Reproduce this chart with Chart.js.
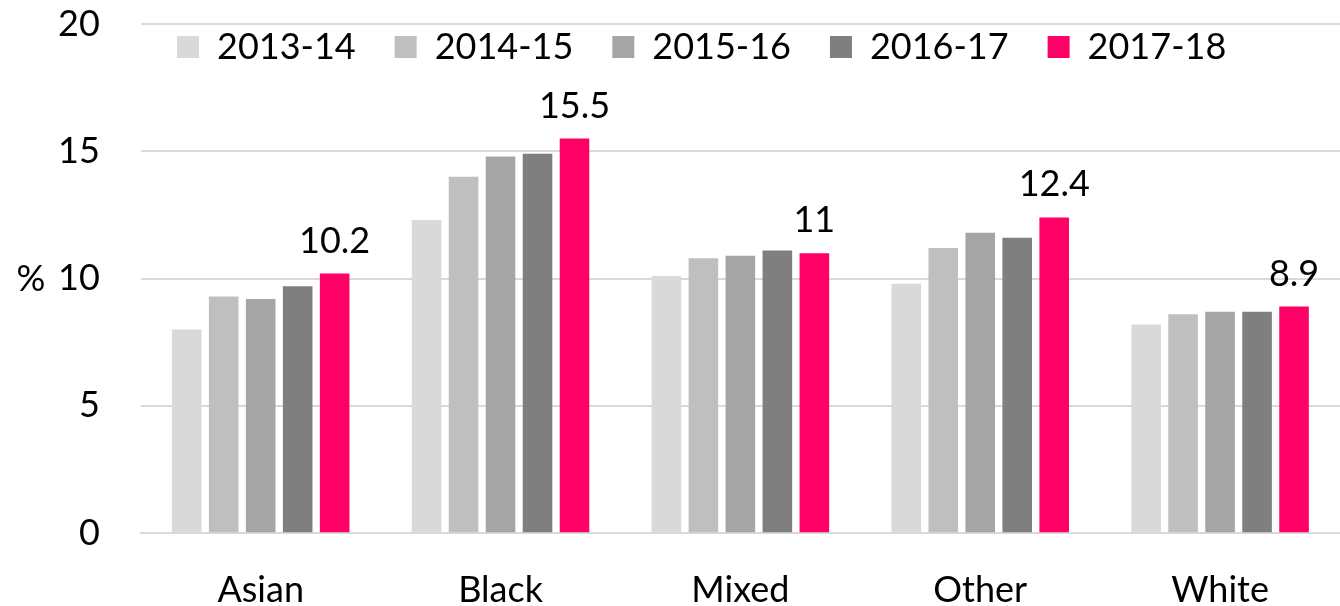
<!DOCTYPE html>
<html>
<head>
<meta charset="utf-8">
<script src="https://cdn.jsdelivr.net/npm/chart.js@4/dist/chart.umd.min.js"></script>
<style>
  html, body { margin: 0; padding: 0; background: #fff; }
  #wrap { width: 1340px; height: 606px; position: relative; }
</style>
</head>
<body>
<div id="wrap"><canvas id="c" width="1340" height="606"></canvas></div>
<script>
// ---- data ----
const categories = ['Asian', 'Black', 'Mixed', 'Other', 'White'];
const seriesNames = ['2013-14', '2014-15', '2015-16', '2016-17', '2017-18'];
const values2013 = [8.0, 12.3, 10.1, 9.8, 8.2];
const values2014 = [9.3, 14.0, 10.8, 11.2, 8.6];
const values2015 = [9.2, 14.8, 10.9, 11.8, 8.7];
const values2016 = [9.7, 14.9, 11.1, 11.6, 8.7];
const values2017 = [10.2, 15.5, 11.0, 12.4, 8.9];
const yTicks = [0, 5, 10, 15, 20];
const yUnit = '%';
const labelledSeries = 4;

// ---- styles ----
const colors = ['#d9d9d9', '#bfbfbf', '#a5a5a5', '#7f7f7f', '#ff0066'];
const FONT = 'Lato';
const seriesValues = [values2013, values2014, values2015, values2016, values2017];

// legend drawn over the plot area (like the original)
const overlayLegend = {
  id: 'overlayLegend',
  beforeLayout(chart) {
    const lg = chart.legend;
    if (lg && !lg._patched) {
      const fit = lg.fit.bind(lg);
      lg.fit = function () { fit(); this._realH = this.height; this.height = 0; };
      lg._patched = true;
    }
  },
  afterLayout(chart, args, opts) {
    const lg = chart.legend;
    if (!lg) return;
    lg.left = opts.left; lg.right = opts.left + lg.width;
    lg.top = opts.top; lg.height = lg._realH; lg.bottom = opts.top + lg._realH;
  }
};

const valueLabels = {
  id: 'valueLabels',
  afterDatasetsDraw(chart, args, opts) {
    const ctx = chart.ctx;
    const meta = chart.getDatasetMeta(labelledSeries);
    const data = chart.data.datasets[labelledSeries].data;
    ctx.save();
    ctx.font = `36px ${FONT}`;
    ctx.fillStyle = '#000';
    ctx.textAlign = 'center';
    ctx.textBaseline = 'alphabetic';
    meta.data.forEach((bar, i) => {
      ctx.fillText(String(data[i]), bar.x, bar.y - opts.gap);
    });
    ctx.restore();
  }
};

const unitLabel = {
  id: 'unitLabel',
  afterDraw(chart, args, opts) {
    const ctx = chart.ctx;
    const a = chart.chartArea;
    ctx.save();
    ctx.font = `36px ${FONT}`;
    ctx.fillStyle = '#000';
    ctx.textAlign = 'center';
    ctx.textBaseline = 'middle';
    ctx.fillText(yUnit, opts.x, (a.top + a.bottom) / 2 + 1);
    ctx.restore();
  }
};

function draw() {
  new Chart(document.getElementById('c'), {
    type: 'bar',
    data: {
      labels: categories,
      datasets: seriesNames.map((name, i) => ({
        label: name,
        data: seriesValues[i],
        backgroundColor: colors[i],
        borderWidth: 0,
        categoryPercentage: 0.771,
        barPercentage: 0.8
      }))
    },
    options: {
      responsive: false,
      animation: false,
      layout: { padding: { top: 24, left: 58, right: 0, bottom: 0 } },
      plugins: {
        tooltip: { enabled: false },
        legend: {
          position: 'top',
          align: 'start',
          labels: {
            boxWidth: 22, boxHeight: 22, padding: 39,
            color: '#000',
            font: { family: FONT, size: 36 }
          }
        },
        overlayLegend: { left: 138, top: -10 },
        valueLabels: { gap: 21 },
        unitLabel: { x: 31 }
      },
      scales: {
        x: {
          grid: { display: false, drawTicks: true, tickLength: 42 },
          border: { display: true, color: '#d9d9d9', width: 2 },
          ticks: { color: '#000', padding: 0, font: { family: FONT, size: 36, lineHeight: 0.856 } }
        },
        y: {
          min: 0, max: 20,
          afterBuildTicks(scale) { scale.ticks = yTicks.map(v => ({ value: v })); },
          grid: { color: '#d9d9d9', lineWidth: 2, drawTicks: true, tickLength: 41, tickColor: 'rgba(0,0,0,0)' },
          border: { display: false },
          ticks: { color: '#000', padding: 0, font: { family: FONT, size: 36 } }
        }
      }
    },
    plugins: [overlayLegend, valueLabels, unitLabel]
  });
}

if (document.fonts && document.fonts.load) {
  document.fonts.load(`36px ${FONT}`).then(draw, draw);
} else { draw(); }
</script>
</body>
</html>
